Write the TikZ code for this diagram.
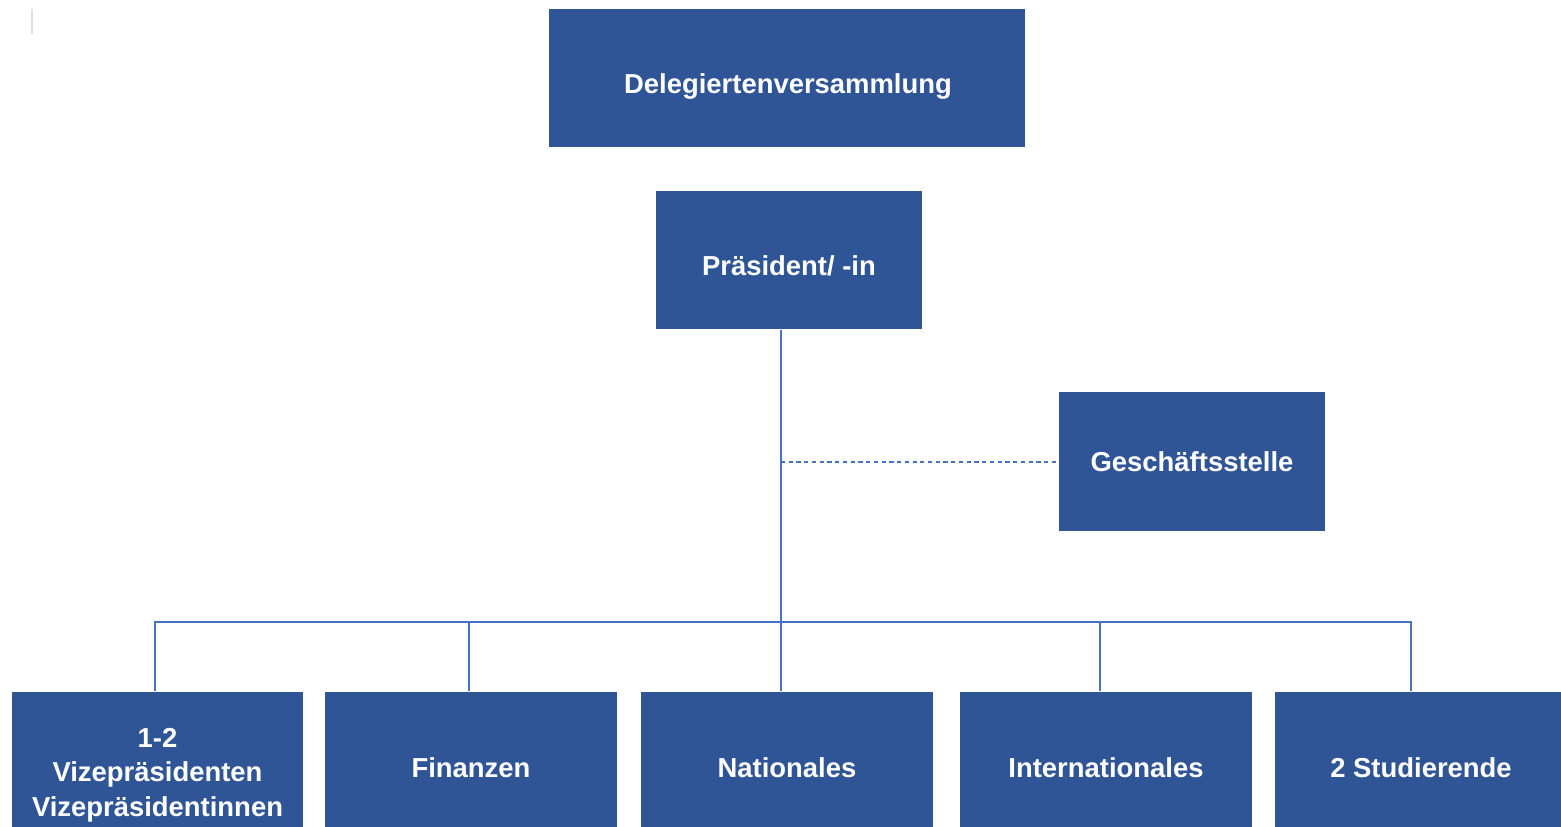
\documentclass[tikz,border=0pt]{standalone}
\usepackage{fontspec}
\setmainfont{Liberation Sans}
\definecolor{boxblue}{HTML}{2F5597}
\definecolor{lineblue}{HTML}{4472C4}
\begin{document}
\begin{tikzpicture}[x=0.01cm,y=-0.01cm,
  box/.style={fill=boxblue,draw=none,inner sep=0pt,minimum height=1.38cm},
  lbl/.style={text=white,font=\fontsize{7.8}{9.8}\selectfont\bfseries,align=center,inner sep=0pt},
  conn/.style={draw=lineblue,line width=0.65pt},
  dconn/.style={draw=lineblue,line width=0.5pt,dash pattern=on 1.2pt off 1.0pt}]
\useasboundingbox (0,0) rectangle (1561,826);
\clip (0,0) rectangle (1561,826);
\draw[black!12,line width=0.3pt] (32,9) -- (32,34);
% boxes
\node[box,minimum width=4.76cm] (dv) at (787,78) {};
\node[box,minimum width=2.66cm] (pr) at (789,260) {};
\node[box,minimum width=2.66cm] (gs) at (1192,461.5) {};
\node[box,minimum width=2.91cm] (b1) at (157.5,761) {};
\node[box,minimum width=2.92cm] (b2) at (471,761) {};
\node[box,minimum width=2.92cm] (b3) at (787,761) {};
\node[box,minimum width=2.92cm] (b4) at (1106,761) {};
\node[box,minimum width=2.92cm] (b5) at (1421,761) {};
% labels
\node[lbl] (tdv) at (788,86) {Delegiertenversammlung};
\node[lbl] (tpr) at (789,266) {Präsident/ -in};
\node[lbl] (tgs) at (1192,462) {Geschäftsstelle};
\node[lbl] (tb1) at (157.5,775) {1-2\\Vizepräsidenten\\Vizepräsidentinnen};
\node[lbl] (tb2) at (471,768) {Finanzen};
\node[lbl] (tb3) at (787,768) {Nationales};
\node[lbl] (tb4) at (1106,768) {Internationales};
\node[lbl] (tb5) at (1421,768) {2 Studierende};
% connector coordinates
\coordinate (bus) at (781,622);
\coordinate (d1) at (155,622);
\coordinate (d2) at (469,622);
\coordinate (d4) at (1100,622);
\coordinate (d5) at (1411,622);
\coordinate (gj) at (781,462);
% connectors
\draw[conn] (pr.south -| bus) -- (b3.north -| bus);
\draw[conn] (b1.north -| d1) -- (d1) -- (d5) -- (b5.north -| d5);
\draw[conn] (d2) -- (b2.north -| d2);
\draw[conn] (d4) -- (b4.north -| d4);
\draw[dconn] (gj) -- (gj -| gs.west);
\end{tikzpicture}
\end{document}
